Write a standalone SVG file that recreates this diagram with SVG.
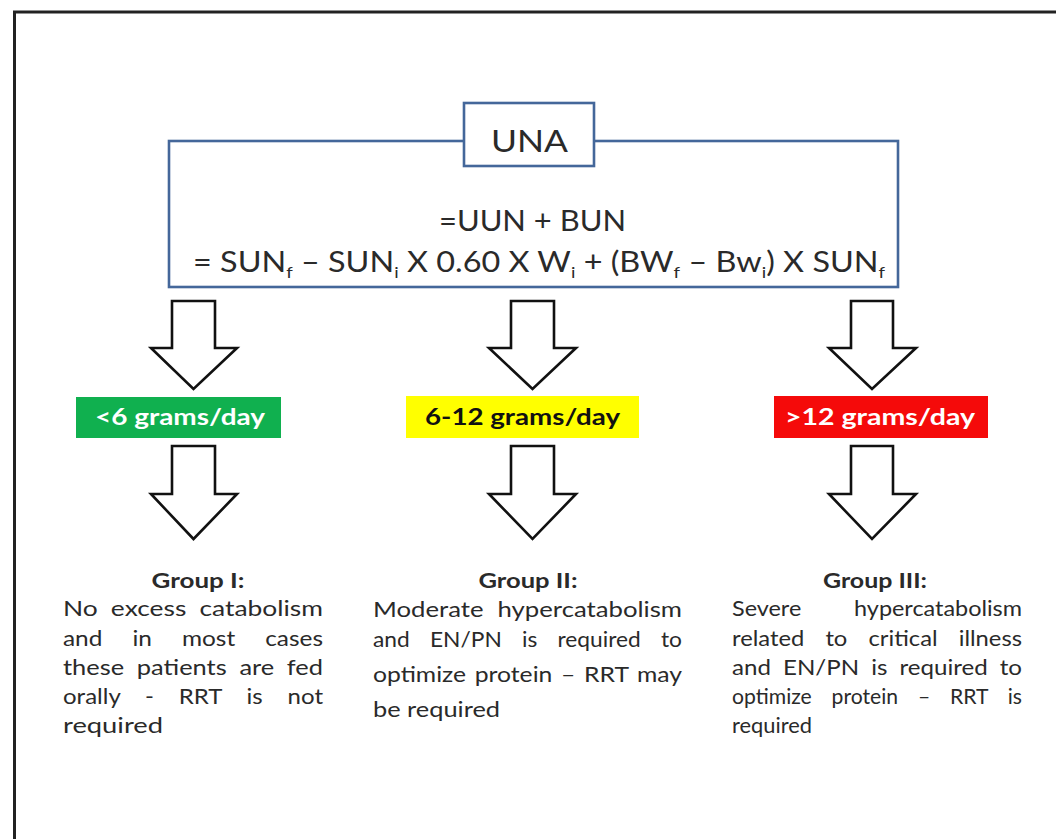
<svg xmlns="http://www.w3.org/2000/svg" width="1056" height="839" viewBox="0 0 1056 839">
<style>
.frame{fill:#fff;stroke:#222;stroke-width:3}
.box{fill:#fff;stroke:#44679a;stroke-width:2.6}
.arrow{fill:#fff;stroke:#111;stroke-width:2.6;stroke-linejoin:miter}
.t{font-family:Lato,"Liberation Sans",sans-serif;fill:#2a2a2a}
.f{font-size:28px}
.b{font-size:20.5px}
.h{font-size:20.5px;font-weight:bold;text-anchor:middle}
.lab{font-family:Lato,"Liberation Sans",sans-serif;font-size:23px;font-weight:bold}
</style>
<rect x="0" y="0" width="1056" height="839" fill="#fff"/>
<rect class="frame" x="14.5" y="12" width="1100" height="900"/>

<g id="formula">
<rect class="box" x="169" y="141" width="729" height="146"/>
<text class="t f" x="439" y="231" textLength="187" lengthAdjust="spacingAndGlyphs">=UUN + BUN</text>
<text class="t f" x="193" y="272" textLength="692" lengthAdjust="spacingAndGlyphs">= SUN<tspan font-size="16" dy="6">f</tspan><tspan dy="-6"> – SUN</tspan><tspan font-size="16" dy="6">i</tspan><tspan dy="-6"> X 0.60 X W</tspan><tspan font-size="16" dy="6">i</tspan><tspan dy="-6"> + (BW</tspan><tspan font-size="16" dy="6">f</tspan><tspan dy="-6"> – Bw</tspan><tspan font-size="16" dy="6">i</tspan><tspan dy="-6">) X SUN</tspan><tspan font-size="16" dy="6">f</tspan></text>
</g>

<g id="una">
<rect class="box" x="464" y="103" width="130" height="63"/>
<text class="t" x="491" y="152" font-size="31" textLength="77" lengthAdjust="spacingAndGlyphs">UNA</text>
</g>

<g id="connectors">
<polygon class="arrow" points="172,301 215,301 215,348 237,348 193.5,389 151,348 172,348"/>
<polygon class="arrow" points="511,301 554,301 554,348 576,348 532.5,389 489,348 511,348"/>
<polygon class="arrow" points="851,301 893,301 893,348 916,348 872,389 829,348 851,348"/>
<polygon class="arrow" points="172,446 215,446 215,494 237,494 193.5,539 151,494 172,494"/>
<polygon class="arrow" points="511,446 554,446 554,494 576,494 532.5,539 489,494 511,494"/>
<polygon class="arrow" points="851,446 893,446 893,494 916,494 872,539 829,494 851,494"/>
</g>

<g id="low">
<rect x="76" y="397" width="205" height="41" fill="#10b04f"/>
<text class="lab" x="95" y="425" fill="#fff" textLength="170" lengthAdjust="spacingAndGlyphs">&lt;6 grams/day</text>
</g>

<g id="moderate">
<rect x="406" y="396" width="233" height="42" fill="#ffff00"/>
<text class="lab" x="425" y="425" fill="#111" textLength="195" lengthAdjust="spacingAndGlyphs">6-12 grams/day</text>
</g>

<g id="high">
<rect x="774" y="396" width="214" height="42" fill="#f50a0a"/>
<text class="lab" x="785" y="425" fill="#fff" textLength="190" lengthAdjust="spacingAndGlyphs">&gt;12 grams/day</text>
</g>

<g id="group1">
<text class="t h" x="198" y="588" textLength="93" lengthAdjust="spacingAndGlyphs">Group I:</text>
<text class="t b" x="63" y="616" textLength="260" lengthAdjust="spacingAndGlyphs" word-spacing="5">No excess catabolism</text>
<text class="t b" x="63" y="646" textLength="260" lengthAdjust="spacingAndGlyphs" word-spacing="20">and in most cases</text>
<text class="t b" x="63" y="675" textLength="260" lengthAdjust="spacingAndGlyphs" word-spacing="5">these patients are fed</text>
<text class="t b" x="63" y="704" textLength="260" lengthAdjust="spacingAndGlyphs" word-spacing="16">orally - RRT is not</text>
<text class="t b" x="63" y="733" textLength="100" lengthAdjust="spacingAndGlyphs">required</text>
</g>

<g id="group2">
<text class="t h" x="528" y="588" textLength="99" lengthAdjust="spacingAndGlyphs">Group II:</text>
<text class="t b" x="373" y="617" textLength="309" lengthAdjust="spacingAndGlyphs" word-spacing="6">Moderate hypercatabolism</text>
<text class="t b" x="373" y="647" textLength="309" lengthAdjust="spacingAndGlyphs" word-spacing="13">and EN/PN is required to</text>
<text class="t b" x="373" y="682" textLength="309" lengthAdjust="spacingAndGlyphs" word-spacing="2">optimize protein – RRT may</text>
<text class="t b" x="373" y="717" textLength="127" lengthAdjust="spacingAndGlyphs">be required</text>
</g>

<g id="group3">
<text class="t h" x="875" y="588" textLength="104" lengthAdjust="spacingAndGlyphs">Group III:</text>
<text class="t b" x="732" y="616" textLength="290" lengthAdjust="spacingAndGlyphs" word-spacing="41">Severe hypercatabolism</text>
<text class="t b" x="732" y="646" textLength="290" lengthAdjust="spacingAndGlyphs" word-spacing="13">related to critical illness</text>
<text class="t b" x="732" y="675" textLength="290" lengthAdjust="spacingAndGlyphs" word-spacing="5">and EN/PN is required to</text>
<text class="t b" x="732" y="704" textLength="290" lengthAdjust="spacingAndGlyphs" word-spacing="14">optimize protein – RRT is</text>
<text class="t b" x="732" y="733" textLength="80" lengthAdjust="spacingAndGlyphs">required</text>
</g>
</svg>
